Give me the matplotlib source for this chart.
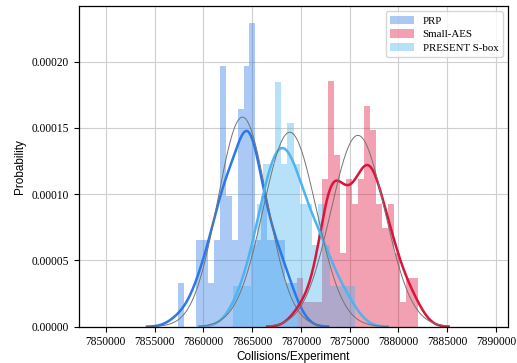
import matplotlib
matplotlib.use("Agg")
import matplotlib.pyplot as plt
import numpy as np
from matplotlib.ticker import FormatStrFormatter

# histogram data: first bin edge, bin width, counts per bin
prp_start, prp_width = 7857400, 610
prp_counts = [1, 0, 0, 2, 2, 1, 2, 6, 3, 2, 5, 6, 7, 2, 3, 2, 2, 2, 1, 1]

aes_start, aes_width = 7869640, 620
aes_counts = [2, 1, 1, 1, 6, 10, 7, 3, 6, 5, 6, 9, 8, 5, 4, 5, 3, 1, 2, 2]

present_start, present_width = 7862995, 625
present_counts = [1, 1, 1, 2, 3, 4, 4, 6, 4, 5, 4, 3, 3, 2, 3, 2, 1, 1, 1, 1]

labels = ["PRP", "Small-AES", "PRESENT S-box"]
colors = ["#2b78e6", "crimson", "#4cb4f2"]

x_ticks = list(range(7850000, 7890001, 5000))
y_ticks = [0.0, 0.00005, 0.00010, 0.00015, 0.00020]


def kde(samples, x):
    # gaussian kde, scott bandwidth like scipy
    n = len(samples)
    bw = np.std(samples, ddof=1) * n ** (-1.0 / 5)
    z = (x[:, None] - samples[None, :]) / bw
    return np.exp(-0.5 * z ** 2).sum(axis=1) / (n * bw * np.sqrt(2 * np.pi)), bw


fig = plt.figure(figsize=(5.17, 3.63), dpi=100)
ax = fig.add_axes([0.152, 0.100, 0.8306, 0.8835])
ax.set_axisbelow(True)
ax.grid(True, color="#cfcfcf", lw=0.8)

handles = []
for start, width, counts, col, lab in [
        (prp_start, prp_width, prp_counts, colors[0], labels[0]),
        (aes_start, aes_width, aes_counts, colors[1], labels[1]),
        (present_start, present_width, present_counts, colors[2], labels[2])]:
    counts = np.array(counts)
    edges = start + width * np.arange(len(counts) + 1)
    centers = edges[:-1] + width / 2
    _, _, patches = ax.hist(centers, bins=edges, weights=counts, density=True,
                            color=col, alpha=0.4, lw=0)
    handles.append(patches[0])
    samples = np.repeat(centers, counts)
    lo, hi = samples.min(), samples.max()
    _, bw = kde(samples, np.array([lo]))
    xs = np.linspace(lo - 3 * bw, hi + 3 * bw, 300)
    dens, bw = kde(samples, xs)
    ax.plot(xs, dens, color=col, lw=1.8)
    mu, sd = samples.mean(), samples.std()
    ax.plot(xs, np.exp(-0.5 * ((xs - mu) / sd) ** 2) / (sd * np.sqrt(2 * np.pi)),
            color="0.45", lw=0.7)

ax.set_xlim(7847200, 7891230)
ax.set_ylim(0, 0.000242)
ax.set_xticks(x_ticks)
ax.set_yticks(y_ticks)
ax.xaxis.set_major_formatter(FormatStrFormatter("%d"))
ax.yaxis.set_major_formatter(FormatStrFormatter("%.5f"))
for t in ax.get_xticklabels() + ax.get_yticklabels():
    t.set_family("Liberation Serif")
    t.set_fontsize(8.3)
ax.tick_params(length=3.5, width=0.8)
for s in ax.spines.values():
    s.set_linewidth(0.9)

ax.set_xlabel("Collisions/Experiment", family="Liberation Sans", fontsize=8.5, labelpad=2)
ax.set_ylabel("Probability", family="Liberation Sans", fontsize=8.5, labelpad=4)

ax.legend(handles, labels, loc="upper right", prop={"family": "Liberation Serif", "size": 7.8},
          handlelength=2.2, handleheight=0.8, borderaxespad=0.5, labelspacing=0.35)

fig.savefig("out.png", dpi=100)
